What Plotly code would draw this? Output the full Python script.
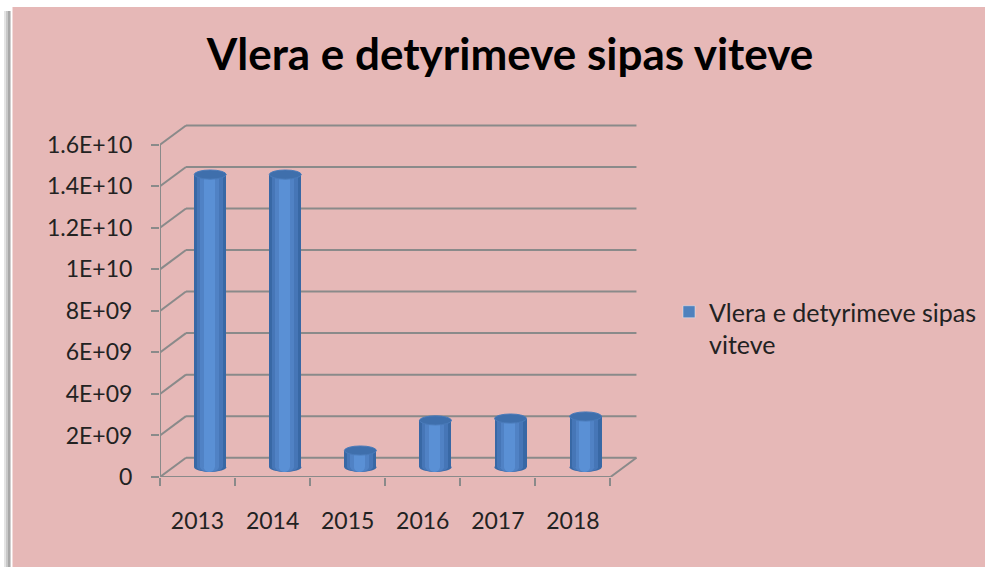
import plotly.graph_objects as go

# ---------------- data ----------------
years = ["2013", "2014", "2015", "2016", "2017", "2018"]
values = [1.41e10, 1.41e10, 0.81e9, 2.26e9, 2.35e9, 2.45e9]
tick_vals = [0, 2e9, 4e9, 6e9, 8e9, 1e10, 1.2e10, 1.4e10, 1.6e10]
tick_text = ["0", "2E+09", "4E+09", "6E+09", "8E+09", "1E+10", "1.2E+10", "1.4E+10", "1.6E+10"]
series_name = "Vlera e detyrimeve sipas<br>viteve"
title_text = "Vlera e detyrimeve sipas viteve"

# ---------------- geometry / style ----------------
W, H = 985, 567
ML, MR, MT, MB = 160, 337, 124, 90
PW, PH = W - ML - MR, H - MT - MB
X_RANGE = [-0.5, 6.0]
Y_RANGE = [0, 1.7e10]
DX = 0.346      # depth offset (category units)
DY = 0.93e9     # depth offset (value units)
BAR_C = 0.169   # cylinder centre offset (mid depth)
BAR_W = 0.426
CAP_RY = 0.22e9
GRID = "#8a8a8a"
PINK = "#E6B8B7"
FONT = "Lato"
TXT = "#222222"
layers = [(1.0, 0.0, "#3868A5"), (0.80, -0.012, "#4676B7"),
          (0.58, -0.022, "#5082C5"), (0.34, -0.03, "#5A90D5")]


def px_x(px):
    return (px - ML) / PW


def px_y(py):
    return (H - MB - py) / PH


fig = go.Figure()
n = len(years)
last = n - 0.5

# legend-only trace
fig.add_trace(go.Bar(x=years, y=[None] * n, name=series_name,
                     marker=dict(color="#4F81BD"), showlegend=True))

for k, (wf, sh, col) in enumerate(layers):
    w = BAR_W * wf
    fig.add_trace(go.Bar(
        x=years, y=values, base=[DY / 2] * n,
        width=w, offset=BAR_C - w / 2 + sh * BAR_W,
        marker=dict(color=col, line=dict(width=0)),
        showlegend=False, hoverinfo="skip", name=series_name))

shapes = []
# page around chart: white strips and shadow
shapes.append(dict(type="rect", xref="paper", yref="paper", x0=px_x(0), x1=px_x(W),
                   y0=px_y(7), y1=px_y(0), fillcolor="white", line=dict(width=0), layer="below"))
shapes.append(dict(type="rect", xref="paper", yref="paper", x0=px_x(0), x1=px_x(12.5),
                   y0=px_y(H), y1=px_y(0), fillcolor="white", line=dict(width=0), layer="below"))
for (a, b, c) in [(4, 6, "#e4e4e4"), (6, 8, "#c8c8c8"), (8, 10, "#a8a8a8"), (10, 11, "#d0d0d0")]:
    shapes.append(dict(type="rect", xref="paper", yref="paper", x0=px_x(a), x1=px_x(b),
                       y0=px_y(H), y1=px_y(11), fillcolor=c, line=dict(width=0), layer="below"))

# gridlines (side wall + back wall)
for v in tick_vals:
    shapes.append(dict(type="line", xref="x", yref="y", x0=-0.5, y0=v, x1=-0.5 + DX, y1=v + DY,
                       line=dict(color=GRID, width=2), layer="below"))
    shapes.append(dict(type="line", xref="x", yref="y", x0=-0.5 + DX, y0=v + DY, x1=last + DX, y1=v + DY,
                       line=dict(color=GRID, width=2), layer="below"))
# floor front edge and right edge, value axis line
shapes.append(dict(type="line", xref="x", yref="y", x0=-0.5, y0=0, x1=last, y1=0,
                   line=dict(color=GRID, width=2), layer="below"))
shapes.append(dict(type="line", xref="x", yref="y", x0=last, y0=0, x1=last + DX, y1=DY,
                   line=dict(color=GRID, width=2), layer="below"))
shapes.append(dict(type="line", xref="x", yref="y", x0=-0.5, y0=0, x1=-0.5, y1=tick_vals[-1],
                   line=dict(color=GRID, width=2), layer="below"))

# cylinder bottoms (below bars) and tops (above bars)
for i, v in enumerate(values):
    for (wf, sh, col) in layers:
        w = BAR_W * wf
        cx = i + BAR_C + sh * BAR_W
        shapes.append(dict(type="circle", xref="x", yref="y", x0=cx - w / 2, x1=cx + w / 2,
                           y0=DY / 2 - CAP_RY, y1=DY / 2 + CAP_RY,
                           fillcolor=col, line=dict(width=0), layer="below"))
    cx = i + BAR_C
    shapes.append(dict(type="circle", xref="x", yref="y", x0=cx - BAR_W / 2, x1=cx + BAR_W / 2,
                       y0=v + DY / 2 - CAP_RY, y1=v + DY / 2 + CAP_RY,
                       fillcolor="#3F6FAC", line=dict(color="#4A7BBA", width=1), layer="above"))

fig.update_layout(
    width=W, height=H,
    margin=dict(l=ML, r=MR, t=MT, b=MB, autoexpand=False),
    paper_bgcolor=PINK, plot_bgcolor="rgba(0,0,0,0)",
    barmode="overlay", bargap=0,
    font=dict(family=FONT, size=23, color=TXT),
    title=dict(text=title_text, x=510 / W, xanchor="center", xref="container",
               y=1 - 55 / H, yanchor="middle", yref="container",
               font=dict(family=FONT, size=44, color="black", weight="bold")),
    xaxis=dict(type="category", range=X_RANGE, tickson="boundaries", ticks="outside",
               ticklen=8, tickwidth=2, tickcolor=GRID, showgrid=False, zeroline=False,
               showline=False, tickfont=dict(family=FONT, size=23, color=TXT),
               ticklabelstandoff=28),
    yaxis=dict(range=Y_RANGE, tickvals=tick_vals, ticktext=tick_text, ticks="outside",
               ticklen=8, tickwidth=2, tickcolor=GRID, showgrid=False, zeroline=False,
               showline=False, tickfont=dict(family=FONT, size=23, color=TXT),
               ticklabelstandoff=14),
    legend=dict(x=px_x(669), y=px_y(289), xanchor="left", yanchor="top",
                bgcolor="rgba(0,0,0,0)", font=dict(family=FONT, size=25, color=TXT),
                valign="top", borderwidth=0),
    shapes=shapes,
)

fig.write_html("out.html")
